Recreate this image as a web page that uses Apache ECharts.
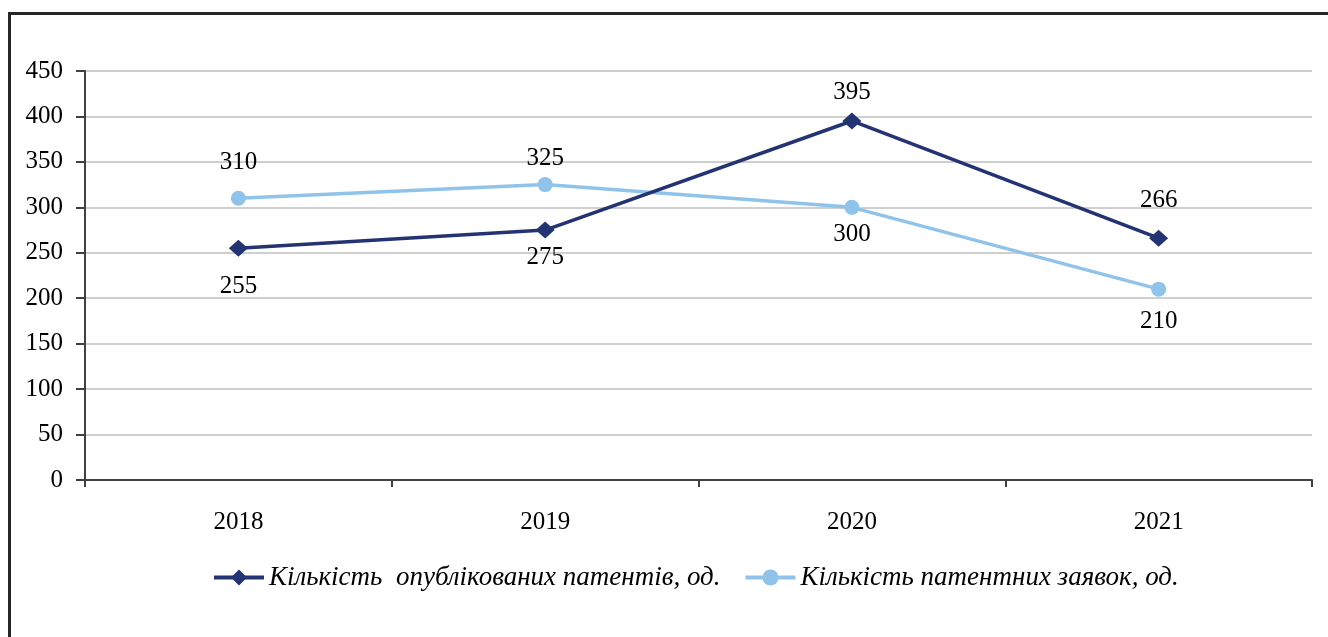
<!DOCTYPE html>
<html>
<head>
<meta charset="utf-8">
<script src="https://cdn.jsdelivr.net/npm/echarts@6/dist/echarts.min.js"></script>
<style>
  html, body { margin: 0; padding: 0; background: #fff; }
  #chart { width: 1328px; height: 637px; }
</style>
</head>
<body>
<div id="chart"></div>
<script>
// дані
var years = ['2018', '2019', '2020', '2021'];
var patentsPublished = [255, 275, 395, 266];
var patentApplications = [310, 325, 300, 210];
var seriesNames = ['Кількість  опублікованих патентів, од.', 'Кількість патентних заявок, од.'];
var yTicks = [0, 50, 100, 150, 200, 250, 300, 350, 400, 450];

// де стоять підписи значень (над / під точкою) і на якій відстані
var publishedLabelPos = ['bottom', 'bottom', 'top', 'top'];
var publishedLabelGap = [17, 6, 8, 17];
var applicationsLabelPos = ['top', 'top', 'bottom', 'bottom'];
var applicationsLabelGap = [16, 6, 7, 12];

var FONT = '"Liberation Serif", "Times New Roman", serif';

function withLabels(values, positions, gaps) {
    var out = [];
    for (var i = 0; i < values.length; i++) {
        out.push({ value: values[i], label: { position: positions[i], distance: gaps[i] } });
    }
    return out;
}

var chart = echarts.init(document.getElementById('chart'), null, { renderer: 'canvas' });

var option = {
    animation: false,
    backgroundColor: '#fff',
    graphic: [
        {
            type: 'polyline',
            shape: { points: [[9.5, 640], [9.5, 13.5], [1330, 13.5]] },
            style: { stroke: '#262626', lineWidth: 3, fill: null }
        }
    ],
    grid: { left: 85, right: 16, top: 71, bottom: 157 },
    legend: {
        top: 564,
        left: 212,
        padding: 0,
        itemWidth: 50,
        itemHeight: 20,
        itemGap: 23,
        lineStyle: { width: 4 },
        textStyle: { fontFamily: FONT, fontStyle: 'italic', fontSize: 27, color: '#000' },
        data: seriesNames
    },
    xAxis: {
        type: 'category',
        data: years,
        boundaryGap: true,
        axisLine: { lineStyle: { color: '#404040', width: 2 } },
        axisTick: { show: true, length: 7, lineStyle: { color: '#404040', width: 2 } },
        axisLabel: { fontFamily: FONT, fontSize: 25, color: '#000', margin: 30 }
    },
    yAxis: {
        type: 'value',
        min: yTicks[0],
        max: yTicks[yTicks.length - 1],
        interval: 50,
        axisLine: { show: true, lineStyle: { color: '#404040', width: 2 } },
        axisTick: { show: true, length: 9, lineStyle: { color: '#404040', width: 2 } },
        axisLabel: { fontFamily: FONT, fontSize: 25, color: '#000', margin: 22 },
        splitLine: { lineStyle: { color: '#bfbfbf', width: 1.5 } }
    },
    series: [
        {
            name: seriesNames[0],
            type: 'line',
            data: withLabels(patentsPublished, publishedLabelPos, publishedLabelGap),
            symbol: 'diamond',
            symbolSize: [19, 17],
            color: '#243372',
            lineStyle: { width: 3.5, color: '#243372' },
            itemStyle: { color: '#243372' },
            label: { show: true, fontFamily: FONT, fontSize: 25, color: '#000' },
            z: 3
        },
        {
            name: seriesNames[1],
            type: 'line',
            data: withLabels(patentApplications, applicationsLabelPos, applicationsLabelGap),
            symbol: 'circle',
            symbolSize: 15,
            color: '#8fc3ea',
            lineStyle: { width: 3.5, color: '#8fc3ea' },
            itemStyle: { color: '#8fc3ea' },
            label: { show: true, fontFamily: FONT, fontSize: 25, color: '#000' },
            z: 2
        }
    ]
};

chart.setOption(option);
</script>
</body>
</html>
